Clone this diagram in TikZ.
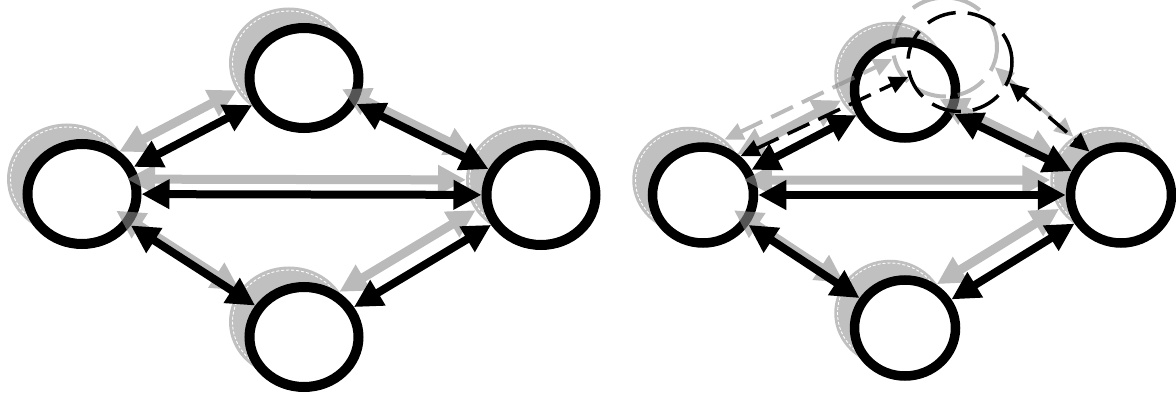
\documentclass[tikz,border=0pt]{standalone}
\usetikzlibrary{shapes.geometric,arrows.meta}
\definecolor{shadowgray}{RGB}{192,192,192}
\definecolor{arrgray}{RGB}{140,140,140}
\tikzset{
  bignode/.style={ellipse, draw=black, line width=10pt, fill=white, minimum width=109pt, minimum height=100pt, inner sep=0pt},
  smallnode/.style={ellipse, draw=black, line width=9.5pt, fill=white, minimum width=101pt, minimum height=96pt, inner sep=0pt},
  bigshadow/.style={ellipse, fill=shadowgray, draw=white, dash pattern=on 3pt off 2pt, line width=0.9pt, minimum width=113pt, minimum height=104pt, inner sep=0pt, outer sep=3.5pt, preaction={draw=shadowgray, line width=7pt, solid}},
  smallshadow/.style={ellipse, fill=shadowgray, draw=white, dash pattern=on 3pt off 2pt, line width=0.9pt, minimum width=105pt, minimum height=100pt, inner sep=0pt, outer sep=3.25pt, preaction={draw=shadowgray, line width=6.5pt, solid}},
  blackdashcircle/.style={ellipse, draw=black, line width=3.5pt, dash pattern=on 30pt off 12pt, minimum width=104pt, minimum height=99pt, inner sep=0pt},
  graydashcircle/.style={ellipse, draw=arrgray, line width=4pt, dash pattern=on 30pt off 12pt, minimum width=104pt, minimum height=99pt, inner sep=0pt},
  barrow/.style={>={Triangle[length=28pt,width=28pt]}, <->, draw=black, line width=8pt},
  garrow/.style={>={Triangle[length=28pt,width=28pt]}, <->, draw=arrgray, line width=9pt},
  bdarrow/.style={>={Triangle[length=19pt,width=17pt]}, <->, draw=black, line width=3.5pt, dash pattern=on 24pt off 10pt},
  gdarrow/.style={>={Triangle[length=19pt,width=17pt]}, <->, draw=arrgray, line width=4pt, dash pattern=on 24pt off 10pt},
}
\begin{document}
\begin{tikzpicture}[x=1pt,y=-1pt]
\useasboundingbox (0,0) rectangle (1176,396);
% shadows left
\node[bigshadow] (Ls) at (67,179) {};
\node[bigshadow] (Ts) at (289,63) {};
\node[bigshadow] (Rs) at (526,180) {};
\node[bigshadow] (Bs) at (289,322) {};
% shadows right
\node[smallshadow] (L2s) at (688,180) {};
\node[smallshadow] (T2s) at (890,75) {};
\node[smallshadow] (R2s) at (1106,180) {};
\node[smallshadow] (B2s) at (890,313) {};
% nodes left
\node[bignode] (L) at (82,194) {};
\node[bignode] (T) at (304,78) {};
\node[bignode] (R) at (541,195) {};
\node[bignode] (B) at (304,337) {};
% nodes right
\node[smallnode] (L2) at (703,195) {};
\node[smallnode] (T2) at (905,90) {};
\node[smallnode] (R2) at (1121,195) {};
\node[smallnode] (B2) at (905,328) {};
% gray arrows and dashed gray
\begin{scope}[transparency group, opacity=0.6]
\node[graydashcircle] (Ds) at (945,47) {};
\draw[garrow] (Ls) -- (Ts);
\draw[garrow] (Ts) -- (Rs);
\draw[garrow] (Ls) -- (Rs);
\draw[garrow] (Ls) -- (Bs);
\draw[garrow] (Bs) -- (Rs);
\draw[garrow] (L2s) -- (T2s);
\draw[garrow] (T2s) -- (R2s);
\draw[garrow] (L2s) -- (R2s);
\draw[garrow] (L2s) -- (B2s);
\draw[garrow] (B2s) -- (R2s);
\draw[gdarrow] (L2s.48) -- (Ds.193);
\draw[gdarrow] (Ds.338) -- (R2s.127);
\end{scope}
\node[blackdashcircle] (D) at (960,62) {};
% black arrows
\draw[barrow] (L) -- (T);
\draw[barrow] (T) -- (R);
\draw[barrow] (L) -- (R);
\draw[barrow] (L) -- (B);
\draw[barrow] (B) -- (R);
\draw[barrow] (L2) -- (T2);
\draw[barrow] (T2) -- (R2);
\draw[barrow] (L2) -- (R2);
\draw[barrow] (L2) -- (B2);
\draw[barrow] (B2) -- (R2);
\draw[bdarrow] (L2.46) -- (D.196);
\draw[bdarrow] (D.337) -- (R2.126);
\end{tikzpicture}
\end{document}
